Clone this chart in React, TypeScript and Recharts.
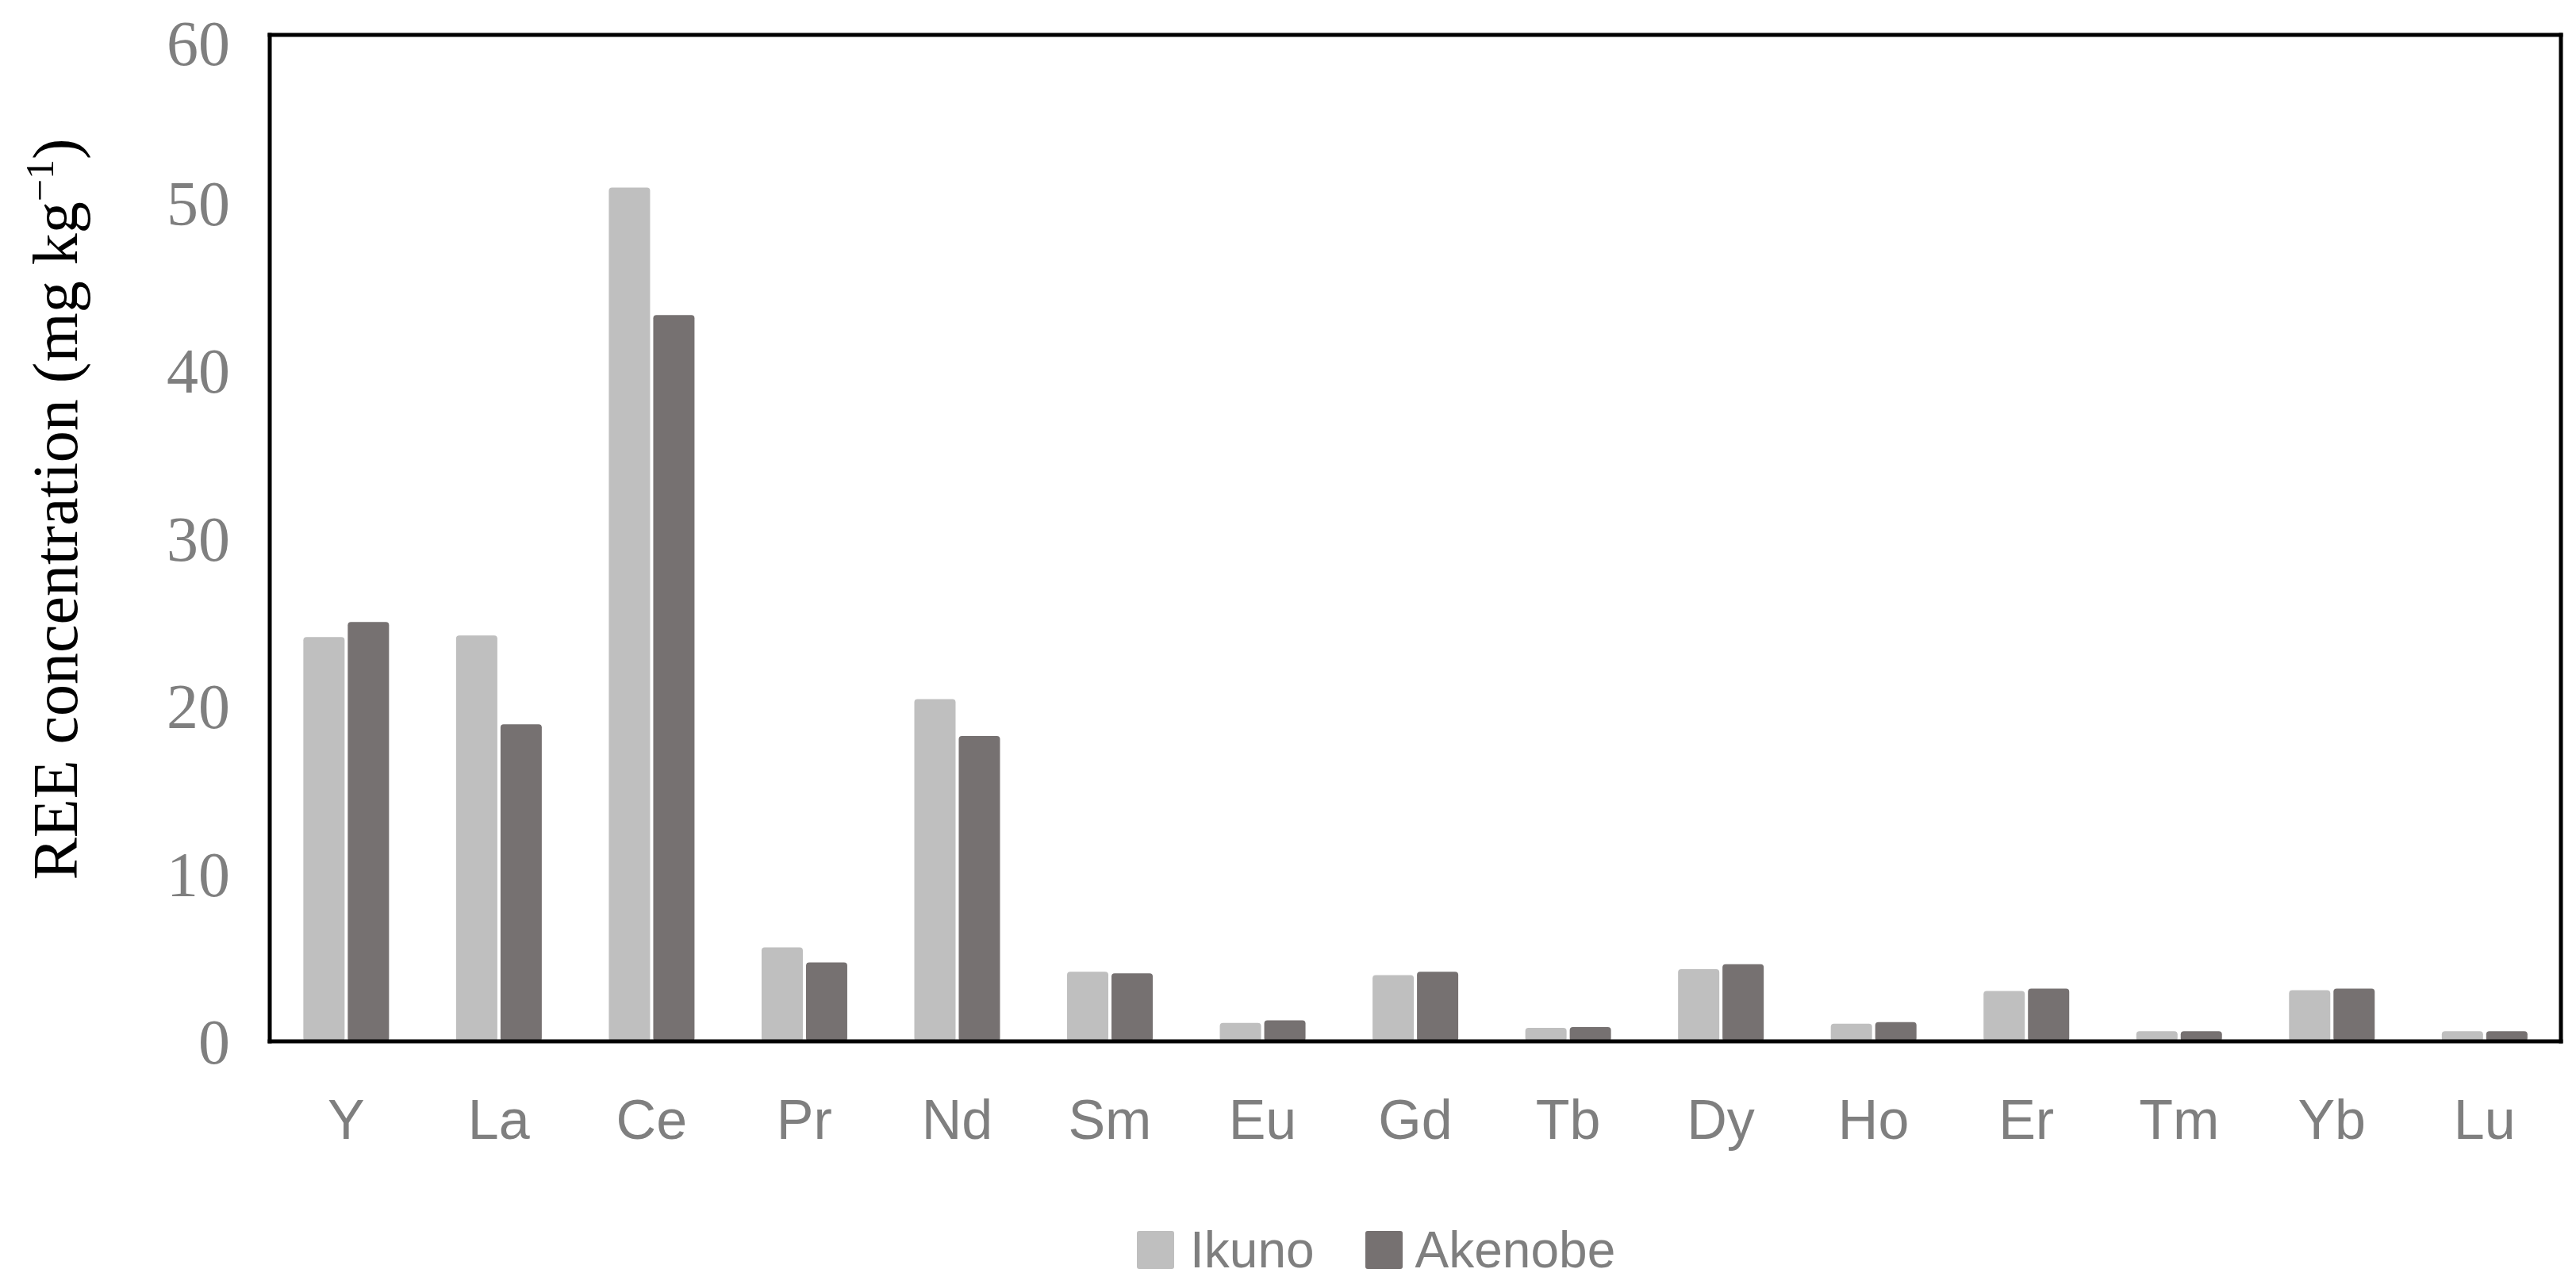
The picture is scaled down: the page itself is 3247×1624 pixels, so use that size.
import { BarChart, Bar, XAxis, YAxis, Legend } from "recharts";

const ELEMENTS = ["Y", "La", "Ce", "Pr", "Nd", "Sm", "Eu", "Gd", "Tb", "Dy", "Ho", "Er", "Tm", "Yb", "Lu"];
const IKUNO = [24.1, 24.2, 50.9, 5.6, 20.4, 4.15, 1.1, 3.95, 0.8, 4.3, 1.05, 3.0, 0.6, 3.05, 0.6];
const AKENOBE = [25.0, 18.9, 43.3, 4.7, 18.2, 4.05, 1.25, 4.15, 0.85, 4.6, 1.15, 3.15, 0.6, 3.15, 0.6];
const Y_TICKS = [0, 10, 20, 30, 40, 50, 60];

const SERIES = [
  { key: "ikuno", name: "Ikuno", color: "#bfbfbf" },
  { key: "akenobe", name: "Akenobe", color: "#767171" },
];

const data = ELEMENTS.map((el, i) => ({ el, ikuno: IKUNO[i], akenobe: AKENOBE[i] }));

const W = 3231;
const H = 1608;
const BORDER = { stroke: "#000", strokeWidth: 5, strokeLinecap: "square" as const };

function YLabel() {
  const x = 89;
  const y = 634;
  return (
    <text
      x={x}
      y={y}
      transform={`rotate(-90 ${x} ${y})`}
      textAnchor="middle"
      fontFamily="'Liberation Serif', 'Times New Roman', serif"
      fontSize={80}
      fill="#000"
    >
      REE concentration (mg kg
      <tspan dy={-30} fontSize={50}>−1</tspan>
      <tspan dy={30}>)</tspan>
    </text>
  );
}

function LegendBox() {
  return (
    <div
      style={{
        display: "flex",
        alignItems: "flex-start",
        height: 60,
        fontFamily: "'Liberation Sans', Arial, sans-serif",
        fontSize: 64,
        lineHeight: "60px",
        color: "#7f7f7f",
      }}
    >
      {SERIES.map((s, i) => (
        <div key={s.key} style={{ display: "flex", alignItems: "flex-start", marginLeft: i === 0 ? 0 : 64 }}>
          <div
            style={{
              width: 47,
              height: 48,
              marginTop: 6,
              marginRight: i === 0 ? 20 : 16,
              borderRadius: 3,
              background: s.color,
            }}
          />
          <span>{s.name}</span>
        </div>
      ))}
    </div>
  );
}

export default function App() {
  return (
    <div style={{ width: W, height: H, background: "#fff" }}>
      <BarChart
        width={W}
        height={H}
        data={data}
        margin={{ top: 35, right: 10, left: 0, bottom: 93 }}
        barCategoryGap="22%"
        barGap={4}
      >
        <XAxis
          dataKey="el"
          axisLine={BORDER}
          tickLine={false}
          tickSize={0}
          tickMargin={73}
          height={150}
          interval={0}
          tick={{ fontSize: 70, fill: "#7f7f7f", fontFamily: "'Liberation Sans Narrow', 'Liberation Sans', sans-serif" }}
        />
        <XAxis xAxisId="t" orientation="top" dataKey="el" height={1} tick={false} tickLine={false} axisLine={BORDER} />
        <YAxis
          domain={[0, 60]}
          ticks={Y_TICKS}
          width={332}
          axisLine={BORDER}
          tickLine={false}
          tickSize={0}
          tickMargin={50}
          tick={{ fontSize: 80, fill: "#7f7f7f", fontFamily: "'Liberation Serif', 'Times New Roman', serif" }}
          label={<YLabel />}
        />
        <YAxis yAxisId="r" orientation="right" width={1} domain={[0, 60]} tick={false} tickLine={false} axisLine={BORDER} />
        <Legend
          verticalAlign="bottom"
          content={<LegendBox />}
          wrapperStyle={{ left: 1425, width: 900, bottom: "auto", top: 1538 }}
        />
        {SERIES.map((s) => (
          <Bar
            key={s.key}
            dataKey={s.key}
            name={s.name}
            fill={s.color}
            radius={4}
            isAnimationActive={false}
          />
        ))}
      </BarChart>
    </div>
  );
}
